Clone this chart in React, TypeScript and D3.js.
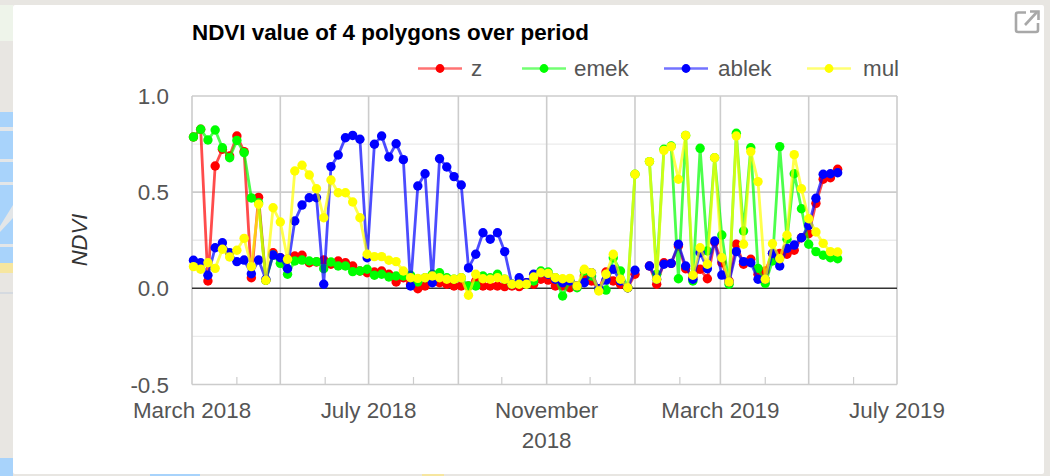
import React from "react";
import * as d3 from "d3";

const seriesNames = ["z", "emek", "ablek", "mul"];
const seriesColors = ["#ff0000", "#00ff00", "#0000ff", "#ffff00"];
const firstDate = new Date(2018, 2, 2);
const stepDays = 5;

const zValues: (number | null)[] = [.787,.827,.038,.636,.723,.688,.792,.711,.055,.473,.042,.185,.159,.151,.168,.172,.133,.137,.147,.125,.142,.133,.116,.090,.081,.085,.090,.073,.033,.055,.021,-.002,.012,.038,.029,.021,.012,.012,.012,.038,.012,.012,.012,.009,.012,.009,.029,.021,.047,.043,.012,.012,.003,.012,.064,.038,-.005,.085,.038,.021,.003,.073,null,.116,.021,.133,.130,.220,.102,.055,.099,.050,.241,.133,.038,.229,.125,.151,.073,.090,.182,.182,.177,.198,.263,.284,.442,.567,.575,.619];
const emekValues: (number | null)[] = [.787,.827,.771,.823,.731,.679,.769,.705,.470,.445,.042,.173,.130,.073,.142,.147,.142,.139,.102,.137,.116,.116,.087,.090,.099,.068,.073,.059,.064,.064,.068,.033,.055,.073,.081,.055,.047,.055,.012,.012,.064,.055,.073,.047,.021,.029,.021,.038,.090,.085,.055,-.040,.038,.003,.090,.064,-.005,-.009,.159,.090,.003,.593,null,.659,.073,.723,.740,.050,.795,.038,.728,.194,.679,.277,.021,.806,.298,.731,.104,.026,.142,.737,.255,.596,.414,.229,.191,.172,.159,.154];
const ablekValues: (number | null)[] = [.146,.133,.068,.211,.237,.185,.139,.147,.076,.147,.047,.173,.159,.102,.350,.433,.471,.471,.021,.633,.693,.783,.795,.775,.159,.749,.792,.683,.752,.669,.012,.532,.596,.029,.674,.631,.581,.537,.106,.177,.289,.255,.289,.191,.021,.055,.029,.073,.081,.073,.047,.029,.038,.012,.029,.081,-.002,.043,.099,.038,.003,.094,null,.116,.047,.125,.130,.229,.116,.047,.185,.102,.246,.069,.033,.191,.139,.133,.047,.047,.182,.116,.208,.225,.263,.327,.468,.593,.596,.601];
const mulValues: (number | null)[] = [.113,.099,.133,.104,.203,.163,.198,.260,.113,.437,.042,.419,.345,.151,.610,.640,.589,.518,.367,.563,.497,.497,.449,.367,.177,.165,.165,.146,.139,.090,.055,.052,.055,.064,.055,.047,.047,.055,-.036,.073,.050,.047,.055,.047,.021,.021,.021,.059,.081,.078,.055,.050,.052,.012,.099,.081,-.014,.073,.177,.047,.003,.593,null,.659,.047,.717,.737,.567,.795,.068,.211,.125,.679,.159,.033,.792,.229,.711,.555,.047,.232,.154,.276,.695,.518,.362,.293,.234,.191,.189];
const allSeries = [zValues, emekValues, ablekValues, mulValues];

const yMajor = [1, 0.5, 0, -0.5];
const yMinor = [0.75, 0.25, -0.25];
const yLabels = ["1.0", "0.5", "0.0", "-0.5"];
const xLabelDates = [new Date(2018, 2, 1), new Date(2018, 6, 1), new Date(2018, 10, 1), new Date(2019, 2, 1), new Date(2019, 6, 1)];
const xLabels = [["March 2018"], ["July 2018"], ["November", "2018"], ["March 2019"], ["July 2019"]];
const legendX = [418, 522, 664, 807];
const legendTextX = [471, 574, 718, 863];

const FONT = "'Liberation Sans', Arial, sans-serif";
const TEXT = "#555555";

export default function App() {
  const x = d3.scaleTime().domain([new Date(2018, 2, 1), new Date(2019, 6, 1)]).range([192, 897]);
  const y = d3.scaleLinear().domain([-0.5, 1]).range([384.5, 96]);
  const dateAt = (i: number) => d3.timeDay.offset(firstDate, i * stepDays);
  const line = d3.line<number | null>()
    .defined((d) => d !== null)
    .x((_, i) => x(dateAt(i)))
    .y((d) => y(d as number));
  const months = d3.timeMonth.range(new Date(2018, 2, 1), new Date(2019, 7, 1));
  const gridMonths = months.filter((m) => (m.getMonth() % 2) === 0);
  const tickMonths = months.filter((m) => (m.getMonth() % 2) === 1);

  return (
    <svg width={1050} height={476} style={{ position: "absolute", left: 0, top: 0, display: "block" }} fontFamily={FONT}>
      <defs>
        <clipPath id="leftStrip"><rect x={0} y={0} width={13} height={476} /></clipPath>
        <filter id="soft" x="-5%" y="-5%" width="110%" height="110%"><feGaussianBlur stdDeviation={0.4} /></filter>
      </defs>
      <rect width={1050} height={476} fill="#e8e6e2" />
      <rect x={0} y={5} width={13} height={36} fill="#eef4ea" />
      <g clipPath="url(#leftStrip)">
        <rect x={0} y={112} width={13} height={152} fill="#a8d3fb" />
        <rect x={0} y={127} width={13} height={4} fill="#e3e6e8" />
        <rect x={0} y={159} width={13} height={3} fill="#e3e6e8" />
        <rect x={0} y={182} width={13} height={3} fill="#e3e6e8" />
        <path d="M0,226 L13,205 L13,218 L0,232Z" fill="#e3e6e8" />
        <rect x={0} y={244} width={13} height={3} fill="#e3e6e8" />
        <rect x={0} y={263} width={13} height={10} fill="#f6e6a0" />
        <rect x={0} y={292} width={13} height={2} fill="#d5dae0" />
        <rect x={0} y={458} width={13} height={18} fill="#a8d3fb" />
      </g>
      <rect x={150} y={474} width={50} height={2} fill="#a8d3fb" />
      <rect x={422} y={474} width={22} height={2} fill="#f6e6a0" />
      <rect x={13} y={5} width={1031} height={469} rx={2} fill="#ffffff" />

      <text x={192} y={39.5} fontSize={22.4} fontWeight={700} fill="#000000">NDVI value of 4 polygons over period</text>

      {seriesNames.map((name, i) => (
        <g key={name}>
          <line x1={legendX[i]} x2={legendX[i] + 44} y1={68.5} y2={68.5} stroke={seriesColors[i]} strokeWidth={2.6} strokeOpacity={0.55} />
          <circle cx={legendX[i] + 22} cy={68.5} r={4.4} fill={seriesColors[i]} />
          <text x={legendTextX[i]} y={76} fontSize={22.4} fill={TEXT}>{name}</text>
        </g>
      ))}

      {yMinor.map((v) => (
        <line key={v} x1={192} x2={897} y1={y(v)} y2={y(v)} stroke="#ebebeb" strokeWidth={1.4} />
      ))}
      {yMajor.filter((v) => v !== 0).map((v) => (
        <line key={v} x1={192} x2={897} y1={y(v)} y2={y(v)} stroke="#cccccc" strokeWidth={1.6} />
      ))}
      {gridMonths.map((m) => (
        <line key={+m} x1={x(m)} x2={x(m)} y1={96} y2={384.5} stroke="#cccccc" strokeWidth={1.6} />
      ))}
      {tickMonths.map((m) => (
        <line key={+m} x1={x(m)} x2={x(m)} y1={377} y2={384.5} stroke="#cccccc" strokeWidth={1.2} />
      ))}
      <line x1={192} x2={897} y1={y(0)} y2={y(0)} stroke="#333333" strokeWidth={1.5} />

      {yMajor.map((v, i) => (
        <text key={v} x={169} y={y(v) + 8} fontSize={22.4} textAnchor="end" fill={TEXT}>{yLabels[i]}</text>
      ))}
      {xLabelDates.map((d, i) => (
        <text key={+d} x={x(d)} textAnchor="middle" fontSize={22.4} fill={TEXT}>
          {xLabels[i].map((t, j) => (
            <tspan key={t} x={x(d)} y={418 + j * 29.5}>{t}</tspan>
          ))}
        </text>
      ))}
      <text transform="translate(87,240) rotate(-90)" textAnchor="middle" fontSize={22} fontStyle="italic" fill="#333333">NDVI</text>

      <g filter="url(#soft)">
        {allSeries.map((values, s) => (
          <g key={seriesNames[s]}>
            <path d={line(values) ?? ""} fill="none" stroke={seriesColors[s]} strokeWidth={2.8} strokeOpacity={0.7} />
            {values.map((v, i) => v === null ? null : (
              <circle key={i} cx={x(dateAt(i))} cy={y(v)} r={4.7} fill={seriesColors[s]} />
            ))}
          </g>
        ))}
      </g>

      <g fill="none" stroke="#a8a8a8" strokeWidth={2.6}>
        <path d="M1026,12.5 H1018 Q1016,12.5 1016,14.5 V30 Q1016,32 1018,32 H1036 Q1038,32 1038,30 V23" />
        <path d="M1025,25 L1037,12" />
        <path d="M1030,11.5 H1038.5 V20" />
      </g>
    </svg>
  );
}
